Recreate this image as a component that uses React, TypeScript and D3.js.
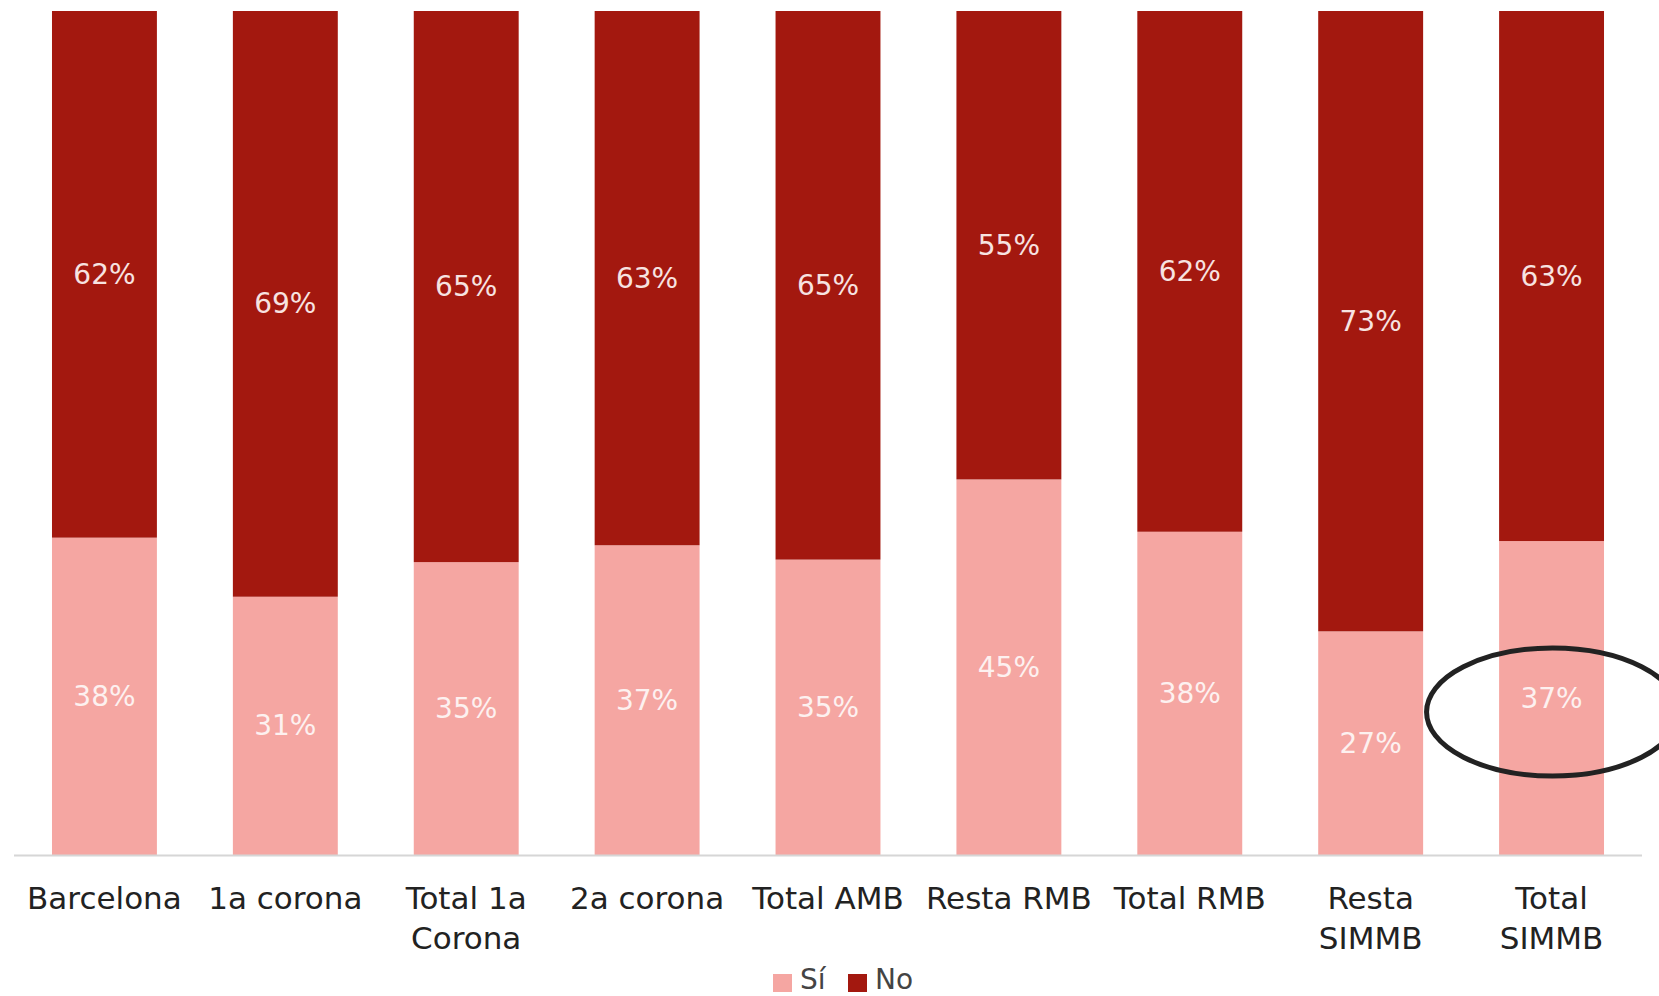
import React from "react";
import * as d3 from "d3";

const categories: string[][] = [
  ["Barcelona"],
  ["1a corona"],
  ["Total 1a", "Corona"],
  ["2a corona"],
  ["Total AMB"],
  ["Resta RMB"],
  ["Total RMB"],
  ["Resta", "SIMMB"],
  ["Total", "SIMMB"],
];
const siValues = [0.376, 0.306, 0.347, 0.367, 0.35, 0.445, 0.383, 0.265, 0.372];
const noValues = siValues.map((v) => 1 - v);
const siLabels = ["38%", "31%", "35%", "37%", "35%", "45%", "38%", "27%", "37%"];
const noLabels = ["62%", "69%", "65%", "63%", "65%", "55%", "62%", "73%", "63%"];
const legendItems = ["Sí", "No"];
const highlightIndex = 8;

const W = 1659;
const H = 996;
const COLOR_SI = "#F5A6A2";
const COLOR_NO = "#A3180F";
const FONT = "'DejaVu Sans', sans-serif";

export default function App() {
  const keys = categories.map((c) => c.join(" "));
  const x = d3
    .scaleBand<string>()
    .domain(keys)
    .range([14, 1642])
    .paddingInner(0.42)
    .paddingOuter(0.21);
  const y = d3.scaleLinear().domain([0, 1]).range([855, 11]);
  const bw = x.bandwidth();

  const hk = keys[highlightIndex];
  const ecx = (x(hk) as number) + bw / 2;
  const ecy = y(siValues[highlightIndex] / 2);

  return (
    <svg
      width={W}
      height={H}
      style={{ position: "fixed", left: 0, top: 0, background: "#fff" }}
      fontFamily={FONT}
    >
      {keys.map((k, i) => {
        const x0 = x(k) as number;
        const si = siValues[i];
        const no = noValues[i];
        return (
          <g key={k}>
            <rect x={x0} y={y(si)} width={bw} height={y(0) - y(si)} fill={COLOR_SI} />
            <rect x={x0} y={y(si + no)} width={bw} height={y(si) - y(si + no)} fill={COLOR_NO} />
            <text
              x={x0 + bw / 2}
              y={y(si / 2)}
              textAnchor="middle"
              dominantBaseline="central"
              fontSize={28}
              fill="#FDF1F0"
            >
              {siLabels[i]}
            </text>
            <text
              x={x0 + bw / 2}
              y={y(si + no / 2)}
              textAnchor="middle"
              dominantBaseline="central"
              fontSize={28}
              fill="#F7E3E1"
            >
              {noLabels[i]}
            </text>
            {categories[i].map((line, j) => (
              <text
                key={j}
                x={x0 + bw / 2}
                y={909 + j * 40}
                textAnchor="middle"
                fontSize={31}
                fill="#222"
              >
                {line}
              </text>
            ))}
          </g>
        );
      })}
      <line x1={14} x2={1642} y1={y(0) + 0.5} y2={y(0) + 0.5} stroke="#D6D6D6" strokeWidth={2} />
      <ellipse cx={ecx + 1} cy={ecy + 14} rx={126} ry={64} fill="none" stroke="#222" strokeWidth={5} />
      {legendItems.map((name, i) => {
        const lx = i === 0 ? 773 : 848;
        return (
          <g key={name}>
            <rect x={lx} y={974} width={19} height={18} fill={i === 0 ? COLOR_SI : COLOR_NO} />
            <text x={lx + 27} y={989} fontSize={28} fill="#444">
              {name}
            </text>
          </g>
        );
      })}
    </svg>
  );
}
